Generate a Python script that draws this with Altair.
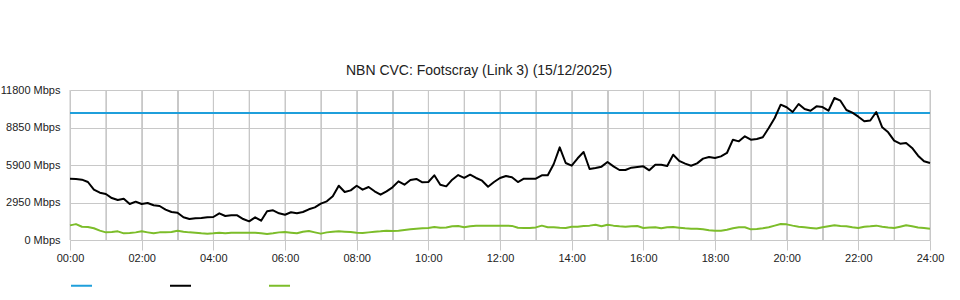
import altair as alt
import pandas as pd

minutes = [i * 10 for i in range(145)]
inbound = [
    4825, 4800, 4745, 4563, 3960, 3720, 3620, 3300, 3147, 3250,
    2830, 3015, 2830, 2910, 2730, 2675, 2385, 2200, 2150, 1785,
    1650, 1705, 1730, 1785, 1810, 2100, 1890, 1940, 1940, 1650,
    1470, 1785, 1520, 2255, 2335, 2100, 1990, 2180, 2100, 2200,
    2415, 2570, 2860, 3040, 3435, 4270, 3776, 3905, 4270, 3960,
    4170, 3830, 3565, 3830, 4145, 4615, 4350, 4720, 4800, 4535,
    4560, 5090, 4350, 4220, 4745, 5110, 4880, 5140, 4880, 4665,
    4195, 4560, 4880, 5035, 4930, 4560, 4825, 4825, 4825, 5090,
    5090, 5980, 7290, 6057, 5850, 6430, 6920, 5585, 5665, 5770,
    6135, 5795, 5505, 5505, 5690, 5740, 5795, 5480, 5925, 5925,
    5820, 6710, 6220, 6005, 5845, 6030, 6400, 6530, 6450, 6580,
    6845, 7890, 7760, 8155, 7890, 7945, 8080, 8810, 9600, 10645,
    10440, 10070, 10700, 10300, 10170, 10515, 10460, 10170, 11170, 10960,
    10225, 10015, 9700, 9335, 9400, 10070, 8865, 8470, 7815, 7580,
    7630, 7240, 6635, 6190, 6060,
]
outbound = [
    1150, 1250, 1040, 1025, 920, 735, 600, 625, 680, 525,
    550, 600, 680, 600, 525, 600, 600, 625, 735, 655,
    600, 575, 525, 500, 525, 575, 525, 575, 575, 575,
    575, 575, 525, 470, 525, 600, 630, 575, 525, 655,
    710, 600, 500, 600, 655, 680, 655, 625, 575, 550,
    600, 655, 680, 735, 710, 735, 790, 840, 890, 920,
    945, 1025, 960, 990, 1080, 1100, 1000, 1080, 1130, 1130,
    1130, 1130, 1130, 1130, 1110, 960, 945, 945, 990, 1130,
    1000, 1000, 960, 945, 1050, 1050, 1100, 1130, 1205, 1080,
    1205, 1130, 1080, 1050, 1080, 1100, 945, 990, 1000, 920,
    1000, 1020, 970, 920, 890, 890, 840, 760, 735, 735,
    810, 920, 1000, 1000, 840, 860, 920, 1000, 1130, 1260,
    1230, 1130, 1050, 1000, 945, 900, 1000, 1080, 1155, 1110,
    1080, 1000, 945, 1050, 1080, 1130, 1050, 990, 945, 1050,
    1155, 1080, 990, 945, 890,
]
capacity_times = [0, 1440]
capacity_values = [10000, 10000]

series_names = ["Capacity", "Inbound", "Outbound"]
series_colors = ["#1f9fdb", "#000000", "#7cbd2a"]

y_ticks = [0, 2950, 5900, 8850, 11800]
x_grid = list(range(0, 1441, 60))   # hourly grid; labels every 2 hours

n = min(len(minutes), len(inbound), len(outbound))
df_in = pd.DataFrame({"t": minutes[:n], "v": inbound[:n], "s": "Inbound"})
df_out = pd.DataFrame({"t": minutes[:n], "v": outbound[:n], "s": "Outbound"})
df_cap = pd.DataFrame({"t": capacity_times, "v": capacity_values, "s": "Capacity"})
df_grid = pd.DataFrame({"t": x_grid, "lo": y_ticks[0], "hi": y_ticks[-1]})

FONT = "Liberation Sans"

x_scale = alt.Scale(domain=[0, 1440], nice=False, zero=False, padding=0)
y_scale = alt.Scale(domain=[0, 11800], nice=False)
color_scale = alt.Scale(domain=series_names, range=series_colors)

x_axis = alt.Axis(
    values=x_grid,
    labelExpr="datum.value % 120 != 0 ? '' : (datum.value < 600 ? '0' : '') + floor(datum.value / 60) + ':00'",
    grid=True, gridColor="#c8c8c8", gridWidth=1,
    domain=False, ticks=True, tickSize=10, tickColor="#c8c8c8",
    tickOpacity={"condition": {"test": "datum.value % 120 != 0", "value": 0}, "value": 1},
    labelFlush=False, labelOverlap=False,
    labelPadding=2, labelFontSize=11, labelColor="#222222", labelFont=FONT,
    title=None,
)
y_axis = alt.Axis(
    values=y_ticks,
    labelExpr="datum.value + ' Mbps'",
    grid=True, gridColor="#c8c8c8", gridWidth=1, domain=False, ticks=False,
    labelFlush=False,
    labelPadding=10, labelFontSize=11, labelColor="#222222", labelFont=FONT,
    title=None,
)

grid_bars = alt.Chart(df_grid).mark_bar(color="#c8c8c8", width=1).encode(
    x=alt.X("t:Q", scale=x_scale, axis=x_axis),
    y=alt.Y("lo:Q", scale=y_scale, axis=y_axis),
    y2="hi:Q",
)

legend = alt.Legend(
    orient="none", legendX=0, legendY=184, direction="horizontal",
    title=None, symbolType="stroke", symbolSize=441, symbolStrokeWidth=2,
    labelExpr="''", labelOffset=0, columnPadding=70, padding=0,
)

def line_layer(df):
    return alt.Chart(df).mark_line(strokeWidth=2, strokeJoin="round").encode(
        x=alt.X("t:Q", scale=x_scale, axis=x_axis),
        y=alt.Y("v:Q", scale=y_scale, axis=y_axis),
        color=alt.Color("s:N", scale=color_scale, legend=legend),
    )

chart = alt.layer(
    grid_bars,
    line_layer(df_cap),
    line_layer(df_out),
    line_layer(df_in),
).properties(
    width=860,
    height=150,
    title=alt.TitleParams(
        text="NBN CVC: Footscray (Link 3) (15/12/2025)",
        anchor="middle", dx=-21, fontSize=14, fontWeight="normal",
        font=FONT, color="#222222", offset=6,
    ),
    autosize=alt.AutoSizeParams(type="none"),
    padding={"left": 70, "top": 90, "right": 30, "bottom": 60},
    background="white",
).configure_view(strokeWidth=0)

chart.save("out.html", embed_options={"renderer": "svg", "actions": False})
